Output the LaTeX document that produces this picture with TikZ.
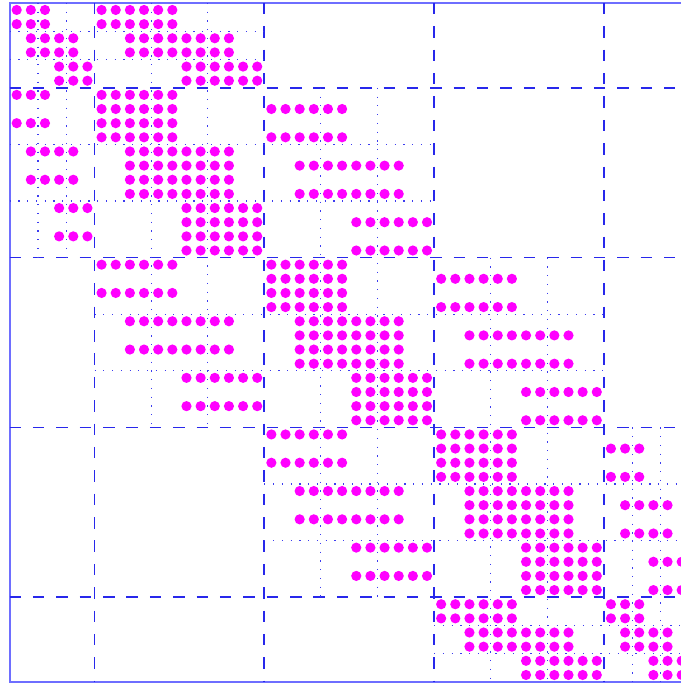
\documentclass[tikz,border=0pt]{standalone}
\usepackage{tikz}

\definecolor{spymagenta}{RGB}{255,0,255}
\definecolor{spyblue}{RGB}{40,40,235}
\definecolor{spyframe}{RGB}{110,110,255}
\definecolor{spydot}{RGB}{60,60,240}

\tikzstyle{frame}=[draw=spyframe, line width=1.8pt]
\tikzstyle{blockline}=[draw=spyblue, line width=1.7pt, dash pattern=on 11.5pt off 12pt]
\tikzstyle{subline}=[draw=spydot, line width=1.2pt, dash pattern=on 1.2pt off 7.6pt]
\tikzstyle{nonzero}=[fill=spymagenta]

\newcommand{\spyblock}[6]{%
  \foreach \k in {0,1,2}{
    \pgfmathtruncatemacro{\ra}{#1+\k*#2+#5}
    \pgfmathtruncatemacro{\rb}{\ra+#6}
    \pgfmathtruncatemacro{\rc}{#1+(\k+1)*#2-1}
    \pgfmathtruncatemacro{\ca}{max(#3,#3+\k*#4-#4/2)}
    \pgfmathtruncatemacro{\cb}{min(#3+3*#4-1,#3+(\k+1)*#4+#4/2-1)}
    \foreach \r in {\ra,\rb,...,\rc}
      \foreach \c in {\ca,...,\cb}
        \fill[nonzero] (\c+0.5,-\r-0.5) circle (0.36);
  }}

\begin{document}
\begin{tikzpicture}[scale=0.5]
    \clip (-0.68,-48.28) rectangle (47.45,0.205);
    \draw[frame] (0,0) rectangle (48,-48);
    \foreach \b in {6,18,30,42}{
        \draw[blockline] (0,-\b) -- (48,-\b);
        \draw[blockline] (\b,0) -- (\b,-48);
    }
    \foreach \s/\a/\e in {2/0/18,4/0/18,10/0/30,14/0/30,22/6/42,26/6/42,34/18/48,38/18/48,44/30/48,46/30/48}{
        \draw[subline] (\a,-\s) -- (\e,-\s);
        \draw[subline] (\s,-\a) -- (\s,-\e);
    }
    \spyblock{0}{2}{0}{2}{0}{1}
    \spyblock{0}{2}{6}{4}{0}{1}
    \spyblock{6}{4}{0}{2}{0}{2}
    \spyblock{6}{4}{6}{4}{0}{1}
    \spyblock{6}{4}{18}{4}{1}{2}
    \spyblock{18}{4}{6}{4}{0}{2}
    \spyblock{18}{4}{18}{4}{0}{1}
    \spyblock{18}{4}{30}{4}{1}{2}
    \spyblock{30}{4}{18}{4}{0}{2}
    \spyblock{30}{4}{30}{4}{0}{1}
    \spyblock{30}{4}{42}{2}{1}{2}
    \spyblock{42}{2}{30}{4}{0}{1}
    \spyblock{42}{2}{42}{2}{0}{1}
\end{tikzpicture}
\end{document}
